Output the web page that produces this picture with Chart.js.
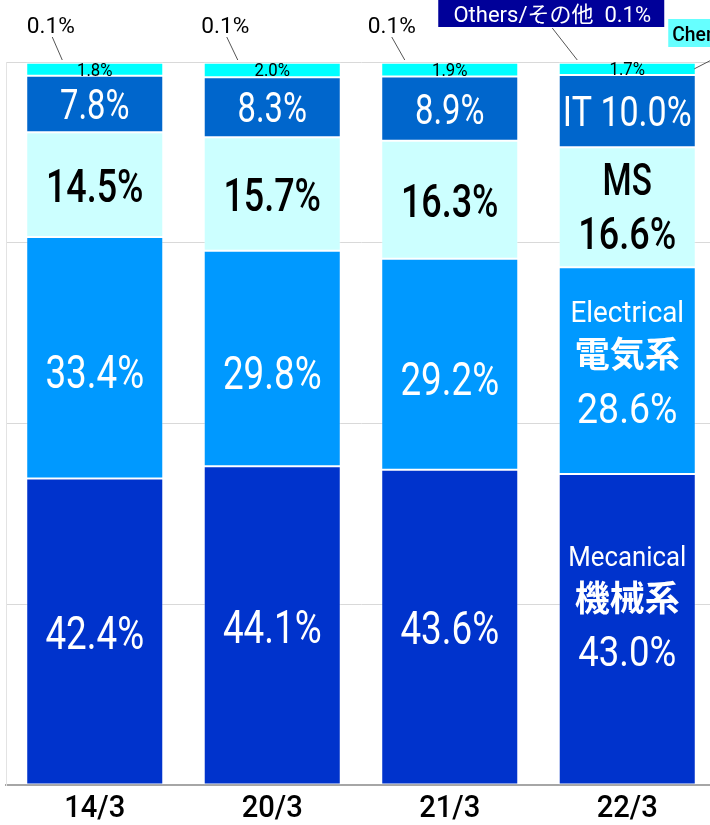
<!DOCTYPE html>
<html>
<head>
<meta charset="utf-8">
<script src="https://cdn.jsdelivr.net/npm/chart.js"></script>
<style>
  html, body { margin: 0; padding: 0; background: #fff; overflow: hidden; }
  #wrap { width: 720px; height: 825px; }
</style>
</head>
<body>
<div id="wrap"><canvas id="chart" width="720" height="825"></canvas></div>
<script>
// categories and series (share in %)
var categories = ['14/3', '20/3', '21/3', '22/3'];
var mechanical = [42.4, 44.1, 43.6, 43.0];
var electrical = [33.4, 29.8, 29.2, 28.6];
var msShare    = [14.5, 15.7, 16.3, 16.6];
var itShare    = [7.8, 8.3, 8.9, 10.0];
var chemical   = [1.8, 2.0, 1.9, 1.7];
var others     = [0.1, 0.1, 0.1, 0.1];
var yTicks     = [0, 25, 50, 75, 100];

var LATIN = 'Roboto, "Noto Sans CJK JP", sans-serif';
var CJK = '"Noto Sans CJK JP", sans-serif';

// draw a horizontally condensed text centred at (x, y)
function drawText(ctx, text, x, y, o) {
    ctx.save();
    ctx.translate(x, y);
    ctx.scale(o.sx || 1, 1);
    ctx.font = (o.weight || 'normal') + ' ' + o.size + 'px ' + (o.family || LATIN);
    ctx.fillStyle = o.color || '#fff';
    ctx.textAlign = o.align || 'center';
    if (o.cjk) {
        ctx.textBaseline = 'middle';
        ctx.fillText(text, 0, 0);
    } else {
        ctx.textBaseline = 'alphabetic';
        ctx.fillText(text, 0, o.size * 0.355);
    }
    ctx.restore();
}

function pct(v) { return v.toFixed(1) + '%'; }

// label styles per series: normal bars and the last (annotated) bar
var labelStyle = [
    { color: '#fff', normal: function (v) { return [{ t: pct(v), dy: 1, size: 46, sx: 0.8 }]; },
      last: function (v) { return [
        { t: 'Mecanical', dy: -73, size: 28, sx: 0.92 },
        { t: '機械系', dy: -32, size: 35, weight: 'bold', family: CJK, cjk: true },
        { t: pct(v), dy: 22, size: 42, sx: 0.87 }]; } },
    { color: '#fff', normal: function (v) { return [{ t: pct(v), dy: 14, size: 46, sx: 0.8 }]; },
      last: function (v) { return [
        { t: 'Electrical', dy: -59, size: 29, sx: 0.96 },
        { t: '電気系', dy: -17, size: 35, weight: 'bold', family: CJK, cjk: true },
        { t: pct(v), dy: 37, size: 43, sx: 0.87 }]; } },
    { color: '#000', normal: function (v) { return [{ t: pct(v), dy: 1, size: 46, sx: 0.78, weight: 500 }]; },
      last: function (v) { return [
        { t: 'MS', dy: -28, size: 45, sx: 0.74, weight: 500 },
        { t: pct(v), dy: 26, size: 45, sx: 0.8, weight: 500 }]; } },
    { color: '#fff', normal: function (v) { return [{ t: pct(v), dy: 0, size: 42, sx: 0.78 }]; },
      last: function (v) { return [{ t: 'IT ' + pct(v), dy: 0, size: 42, sx: 0.81 }]; } },
    { color: '#000', normal: function (v) { return [{ t: pct(v), dy: 0, size: 18, sx: 0.93 }]; },
      last: function (v) { return [{ t: pct(v), dy: 0, size: 18, sx: 0.93 }]; } }
];

// where the small "0.1%" callouts sit, relative to each bar centre
var othersText = [-44, -47, -58];
var othersLine = [[-42.5, -32.5], [-45.5, -34.5], [-58, -45], [-75, -50]];

var labelPlugin = {
    id: 'segLabels',
    afterDatasetsDraw: function (chart) {
        var ctx = chart.ctx;
        var area = chart.chartArea;
        var lastIdx = categories.length - 1;

        // values inside the segments
        for (var di = 0; di < labelStyle.length; di++) {
            var meta = chart.getDatasetMeta(di);
            var ds = chart.data.datasets[di];
            meta.data.forEach(function (el, i) {
                var st = labelStyle[di];
                var lines = i === lastIdx ? st.last(ds.data[i]) : st.normal(ds.data[i]);
                var cy = (el.y + el.base) / 2;
                lines.forEach(function (ln) {
                    drawText(ctx, ln.t, el.x, cy + ln.dy, {
                        size: ln.size, sx: ln.sx, weight: ln.weight, family: ln.family,
                        cjk: ln.cjk, color: st.color
                    });
                });
            });
        }

        // "Others" callouts above the bars
        var oMeta = chart.getDatasetMeta(5);
        ctx.save();
        ctx.strokeStyle = '#555';
        ctx.lineWidth = 1;
        oMeta.data.forEach(function (el, i) {
            ctx.beginPath();
            ctx.moveTo(el.x + othersLine[i][0], i === lastIdx ? area.top - 34 : area.top - 25);
            ctx.lineTo(el.x + othersLine[i][1], el.y - 2);
            ctx.stroke();
        });
        ctx.restore();

        oMeta.data.forEach(function (el, i) {
            if (i < lastIdx) {
                drawText(ctx, pct(others[i]), el.x + othersText[i], area.top - 37,
                    { size: 22, sx: 1.03, color: '#000' });
            } else {
                ctx.fillStyle = '#000099';
                ctx.fillRect(el.x - 189, 0, 226, 27);
                drawText(ctx, 'Others/その他  ' + pct(others[i]), el.x - 75, 14,
                    { size: 22, sx: 1.0, color: '#fff' });
            }
        });

        // Chemical callout on the last bar (runs off the right edge)
        var cEl = chart.getDatasetMeta(4).data[lastIdx];
        ctx.save();
        ctx.strokeStyle = '#555';
        ctx.beginPath();
        ctx.moveTo(cEl.x + 67, (cEl.y + cEl.base) / 2);
        ctx.lineTo(cEl.x + 90, area.top - 5);
        ctx.stroke();
        ctx.fillStyle = '#66ffff';
        ctx.fillRect(cEl.x + 41, area.top - 43, 80, 28);
        ctx.restore();
        drawText(ctx, 'Chemical/化学系 ' + pct(chemical[lastIdx]), cEl.x + 45, area.top - 28,
            { size: 21, sx: 0.92, weight: 500, color: '#000', align: 'left' });

        // category labels under the axis
        var xs = chart.scales.x;
        categories.forEach(function (c, i) {
            drawText(ctx, c, xs.getPixelForValue(i), area.bottom + 21,
                { size: 31, sx: 0.94, weight: 500, color: '#000' });
        });
    }
};

function makeSet(label, data, color) {
    return {
        label: label,
        data: data,
        backgroundColor: color,
        borderColor: 'rgba(255,255,255,0.3)',
        borderWidth: 1,
        borderSkipped: false,
        categoryPercentage: 1,
        barPercentage: 0.772
    };
}

new Chart(document.getElementById('chart'), {
    type: 'bar',
    data: {
        labels: categories,
        datasets: [
            makeSet('Mecanical/機械系', mechanical, '#0033cc'),
            makeSet('Electrical/電気系', electrical, '#0099ff'),
            makeSet('MS', msShare, '#ccffff'),
            makeSet('IT', itShare, '#0066cc'),
            makeSet('Chemical/化学系', chemical, '#00ffff'),
            makeSet('Others/その他', others, '#000099')
        ]
    },
    options: {
        responsive: false,
        animation: false,
        layout: { padding: { top: 62, left: 6, right: 4, bottom: 0 } },
        plugins: { legend: { display: false }, tooltip: { enabled: false } },
        scales: {
            x: {
                stacked: true,
                grid: { display: false, drawTicks: false },
                ticks: { display: false },
                border: { color: '#a6a6a6', width: 2 },
                afterFit: function (s) { s.height = 40; }
            },
            y: {
                stacked: true,
                min: 0,
                max: 100,
                afterBuildTicks: function (s) { s.ticks = yTicks.map(function (v) { return { value: v }; }); },
                ticks: { display: false },
                grid: { color: '#d9d9d9', drawTicks: false },
                border: { color: '#e3e3e3', width: 1 }
            }
        }
    },
    plugins: [labelPlugin]
});
</script>
</body>
</html>
